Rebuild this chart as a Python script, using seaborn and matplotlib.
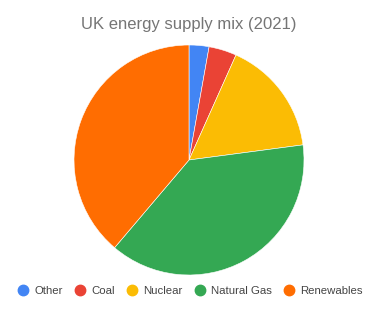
import matplotlib
matplotlib.use("Agg")
import matplotlib.pyplot as plt
import seaborn as sns
from matplotlib.lines import Line2D

categories = ["Other", "Coal", "Nuclear", "Natural Gas", "Renewables"]
values = [2.8, 3.9, 16.2, 38.3, 38.8]
colors = ["#4285F4", "#EA4335", "#FBBC04", "#34A853", "#FF6D01"]
title = "UK energy supply mix (2021)"

sns.set_theme(style="white")
plt.rcParams["font.family"] = ["Liberation Sans", "DejaVu Sans"]

fig = plt.figure(figsize=(3.75, 3.13), dpi=100)
ax = fig.add_axes([74 / 375, 38 / 313, 230 / 375, 230 / 313])
ax.pie(values, colors=sns.color_palette(colors), startangle=90, counterclock=False,
       radius=1.0, wedgeprops=dict(edgecolor="white", linewidth=0.4))
ax.set_xlim(-1, 1)
ax.set_ylim(-1, 1)
ax.set_aspect("equal")
ax.axis("off")

fig.text(189 / 375, 1 - 25 / 313, title, ha="center", va="center",
         fontsize=12, color="#757575")

handles = [Line2D([0], [0], marker="o", linestyle="", markersize=7.5,
                  markerfacecolor=c, markeredgecolor=c) for c in colors]
fig.legend(handles, categories, loc="center", bbox_to_anchor=(190 / 375, 1 - 291 / 313),
           ncol=5, frameon=False, fontsize=8.2, labelcolor="#444444",
           handletextpad=0.5, columnspacing=1.0, handlelength=1.0)

fig.savefig("out.png", dpi=100)
